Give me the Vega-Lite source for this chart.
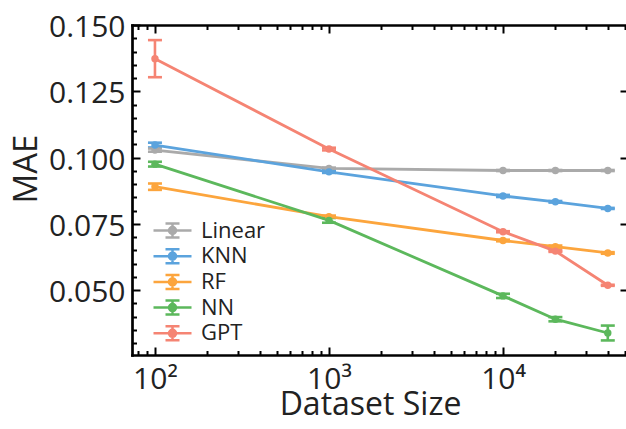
{
  "$schema": "https://vega.github.io/schema/vega-lite/v6.json",
  "width": 494,
  "height": 330,
  "autosize": "none",
  "padding": {"left": 132, "top": 25, "right": 0, "bottom": 74},
  "background": "white",
  "config": {
    "view": {"stroke": null},
    "font": "Open Sans",
    "axis": {"grid": false, "domainColor": "black", "domainWidth": 2.7, "domainCap": "square", "tickColor": "black", "tickWidth": 2, "labelFont": "Open Sans", "titleFont": "Open Sans", "labelColor": "#222", "titleColor": "#222", "titleFontWeight": "normal"},
    "legend": {"orient": "none", "legendX": 29, "legendY": 194, "title": null, "padding": 0,
      "symbolType": "M-1.9,0H1.9M0,-0.7V0.7M-0.7,-0.7H0.7M-0.7,0.7H0.7M-0.35,0A0.35,0.35,0,1,0,0.35,0A0.35,0.35,0,1,0,-0.35,0",
      "symbolSize": 400, "symbolStrokeWidth": 2.5, "labelFontSize": 22, "labelFont": "Open Sans", "labelColor": "#222", "labelOffset": 17, "rowPadding": 0.7, "labelBaseline": "middle"}
  },
  "data": {"values": [
    {"size": 100, "model": "Linear", "mae": 0.1028, "lo": 0.1022, "hi": 0.1034},
    {"size": 1000, "model": "Linear", "mae": 0.0959, "lo": 0.0956, "hi": 0.0962},
    {"size": 10000, "model": "Linear", "mae": 0.0951, "lo": 0.0949, "hi": 0.0953},
    {"size": 20000, "model": "Linear", "mae": 0.0951, "lo": 0.0949, "hi": 0.0953},
    {"size": 40000, "model": "Linear", "mae": 0.0951, "lo": 0.0949, "hi": 0.0953},
    {"size": 100, "model": "KNN", "mae": 0.1047, "lo": 0.1038, "hi": 0.1056},
    {"size": 1000, "model": "KNN", "mae": 0.0946, "lo": 0.0942, "hi": 0.0950},
    {"size": 10000, "model": "KNN", "mae": 0.0855, "lo": 0.0851, "hi": 0.0859},
    {"size": 20000, "model": "KNN", "mae": 0.0833, "lo": 0.0830, "hi": 0.0836},
    {"size": 40000, "model": "KNN", "mae": 0.0808, "lo": 0.0806, "hi": 0.0810},
    {"size": 100, "model": "RF", "mae": 0.0890, "lo": 0.0878, "hi": 0.0902},
    {"size": 1000, "model": "RF", "mae": 0.0777, "lo": 0.0773, "hi": 0.0781},
    {"size": 10000, "model": "RF", "mae": 0.0687, "lo": 0.0684, "hi": 0.0690},
    {"size": 20000, "model": "RF", "mae": 0.0664, "lo": 0.0660, "hi": 0.0668},
    {"size": 40000, "model": "RF", "mae": 0.0640, "lo": 0.0637, "hi": 0.0643},
    {"size": 100, "model": "NN", "mae": 0.0975, "lo": 0.0966, "hi": 0.0984},
    {"size": 1000, "model": "NN", "mae": 0.0763, "lo": 0.0754, "hi": 0.0772},
    {"size": 10000, "model": "NN", "mae": 0.0478, "lo": 0.0470, "hi": 0.0486},
    {"size": 20000, "model": "NN", "mae": 0.0390, "lo": 0.0382, "hi": 0.0398},
    {"size": 40000, "model": "NN", "mae": 0.0338, "lo": 0.0310, "hi": 0.0366},
    {"size": 100, "model": "GPT", "mae": 0.1373, "lo": 0.1303, "hi": 0.1443},
    {"size": 1000, "model": "GPT", "mae": 0.1032, "lo": 0.1027, "hi": 0.1037},
    {"size": 10000, "model": "GPT", "mae": 0.0720, "lo": 0.0718, "hi": 0.0722},
    {"size": 20000, "model": "GPT", "mae": 0.0647, "lo": 0.0644, "hi": 0.0650},
    {"size": 40000, "model": "GPT", "mae": 0.0518, "lo": 0.0516, "hi": 0.0520}
  ]},
  "resolve": {"axis": {"x": "independent", "y": "independent"}},
  "layer": [
    {
      "mark": {"type": "rule", "strokeWidth": 2.6},
      "encoding": {
        "x": {"field": "size", "type": "quantitative", "scale": {"type": "log", "domain": [73.8, 50900], "nice": false, "zero": false},
          "axis": {"orient": "bottom", "values": [100, 1000, 10000], "ticks": false, "tickSize": 0, "domain": true, "labelFontSize": 30, "labelPadding": 9.5, "labelBaseline": "top",
            "labelExpr": "datum.value == 100 ? '10²' : datum.value == 1000 ? '10³' : '10⁴'",
            "title": "Dataset Size", "titleFontSize": 32, "titleX": 238, "titleY": 59, "titleBaseline": "alphabetic", "titleAlign": "center", "titleAnchor": null}},
        "y": {"field": "lo", "type": "quantitative", "scale": {"domain": [0.0255, 0.15], "nice": false, "zero": false},
          "axis": {"orient": "left", "values": [0.05, 0.075, 0.1, 0.125, 0.15], "format": ".3f", "ticks": false, "tickSize": 0, "domain": true, "labelFontSize": 30, "labelPadding": 7, "labelOffset": 2.5, "labelBaseline": "middle",
            "title": "MAE", "titleFontSize": 33, "titleX": -96, "titleY": 143.5, "titleAngle": -90, "titleBaseline": "alphabetic", "titleAlign": "center", "titleAnchor": null}},
        "y2": {"field": "hi"},
        "color": {"field": "model", "type": "nominal", "sort": ["Linear", "KNN", "RF", "NN", "GPT"], "scale": {"domain": ["Linear", "KNN", "RF", "NN", "GPT"], "range": ["#aaaaaa", "#5ba3dd", "#fca53d", "#5cb85c", "#f58473"]},
          "legend": {"encode": {"symbols": {"update": {"fill": {"scale": "color", "field": "value"}, "stroke": {"scale": "color", "field": "value"}, "opacity": {"value": 1}}}}}}
      }
    },
    {
      "mark": {"type": "tick", "orient": "horizontal", "size": 14, "thickness": 2.6, "opacity": 1},
      "encoding": {
        "x": {"field": "size", "type": "quantitative", "scale": {"type": "log", "domain": [73.8, 50900], "nice": false, "zero": false},
          "axis": {"orient": "bottom", "values": [100, 1000, 10000], "labels": false, "domain": false, "tickSize": -8, "title": null}},
        "y": {"field": "lo", "type": "quantitative", "scale": {"domain": [0.0255, 0.15], "nice": false, "zero": false},
          "axis": {"orient": "left", "values": [0.05, 0.075, 0.1, 0.125, 0.15], "labels": false, "domain": false, "tickSize": -8, "title": null}},
        "color": {"field": "model", "type": "nominal"}
      }
    },
    {
      "mark": {"type": "tick", "orient": "horizontal", "size": 14, "thickness": 2.6, "opacity": 1},
      "encoding": {
        "x": {"field": "size", "type": "quantitative", "scale": {"type": "log", "domain": [73.8, 50900], "nice": false, "zero": false},
          "axis": {"orient": "bottom", "values": [80, 90, 200, 300, 400, 500, 600, 700, 800, 900, 2000, 3000, 4000, 5000, 6000, 7000, 8000, 9000, 20000, 30000, 40000, 50000], "labels": false, "domain": false, "tickSize": -4.5, "title": null}},
        "y": {"field": "hi", "type": "quantitative", "scale": {"domain": [0.0255, 0.15], "nice": false, "zero": false},
          "axis": {"orient": "left", "values": [0.03, 0.035, 0.04, 0.045, 0.055, 0.06, 0.065, 0.07, 0.08, 0.085, 0.09, 0.095, 0.105, 0.11, 0.115, 0.12, 0.13, 0.135, 0.14, 0.145], "labels": false, "domain": false, "tickSize": -4.5, "title": null}},
        "color": {"field": "model", "type": "nominal"}
      }
    },
    {
      "mark": {"type": "line", "strokeWidth": 2.8},
      "encoding": {
        "x": {"field": "size", "type": "quantitative", "scale": {"type": "log", "domain": [73.8, 50900], "nice": false, "zero": false},
          "axis": {"orient": "top", "values": [100, 1000, 10000], "labels": false, "domain": true, "tickSize": -8, "title": null}},
        "y": {"field": "mae", "type": "quantitative", "scale": {"domain": [0.0255, 0.15], "nice": false, "zero": false},
          "axis": {"orient": "right", "values": [0.05, 0.075, 0.1, 0.125], "labels": false, "domain": false, "tickSize": -6, "title": null}},
        "color": {"field": "model", "type": "nominal"}
      }
    },
    {
      "mark": {"type": "point", "filled": true, "size": 55, "opacity": 1},
      "encoding": {
        "x": {"field": "size", "type": "quantitative", "scale": {"type": "log", "domain": [73.8, 50900], "nice": false, "zero": false},
          "axis": {"orient": "top", "values": [80, 90, 200, 300, 400, 500, 600, 700, 800, 900, 2000, 3000, 4000, 5000, 6000, 7000, 8000, 9000, 20000, 30000, 40000, 50000], "labels": false, "domain": false, "tickSize": -4.5, "title": null}},
        "y": {"field": "mae", "type": "quantitative", "scale": {"domain": [0.0255, 0.15], "nice": false, "zero": false}, "axis": null},
        "color": {"field": "model", "type": "nominal"}
      }
    }
  ]
}
